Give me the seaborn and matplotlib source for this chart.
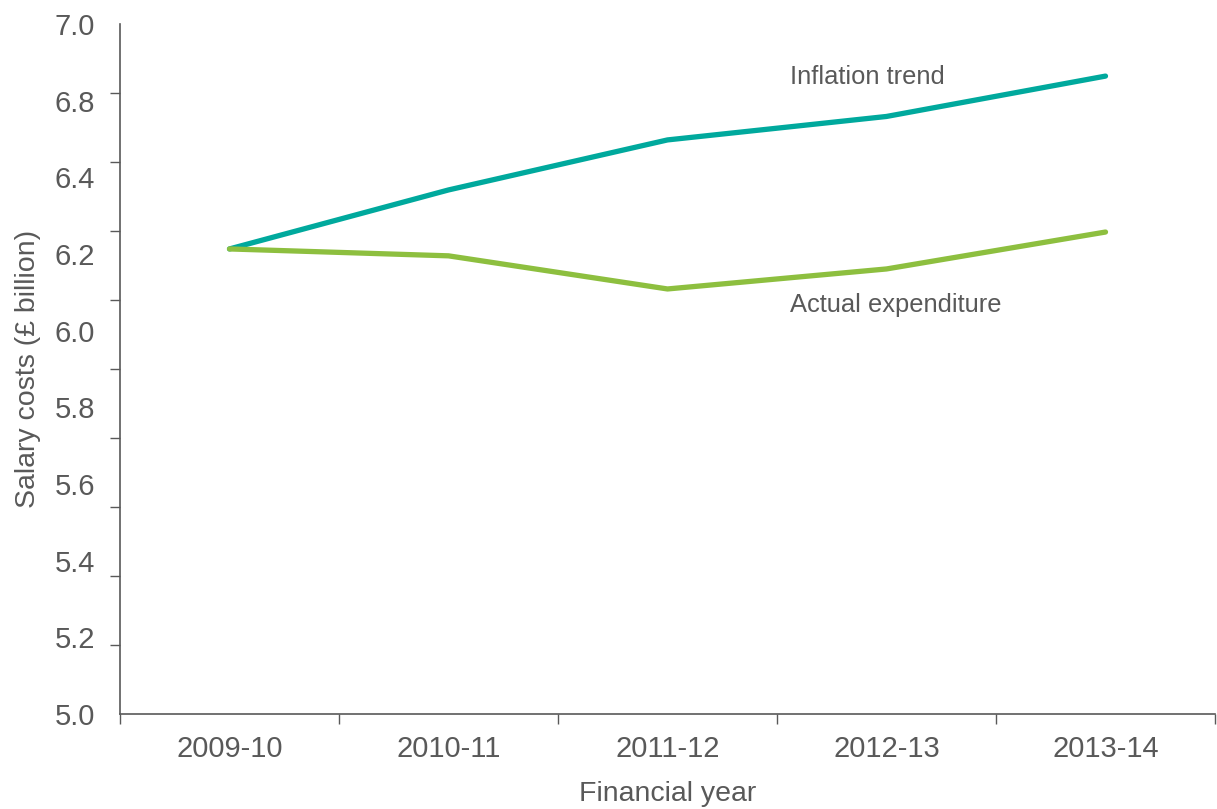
import numpy as np
import pandas as pd
import seaborn as sns
import matplotlib.pyplot as plt

years = ['2009-10', '2010-11', '2011-12', '2012-13', '2013-14']
inflation_trend = [6.348, 6.519, 6.664, 6.732, 6.849]
actual_expenditure = [6.348, 6.328, 6.232, 6.290, 6.397]
y_labels = ['5.0', '5.2', '5.4', '5.6', '5.8', '6.0', '6.2', '6.4', '6.8', '7.0']

TEXT = '#595959'
TEAL = '#00A99D'
GREEN = '#8DBF3F'

sns.set_style('ticks')
plt.rcParams['font.family'] = ['Liberation Sans', 'DejaVu Sans']

df = pd.DataFrame({
    'year': years * 2,
    'cost': inflation_trend + actual_expenditure,
    'series': ['Inflation trend'] * 5 + ['Actual expenditure'] * 5,
})

fig = plt.figure(figsize=(12.17, 8.09), dpi=100)
ax = fig.add_axes([120 / 1217, 1 - 714 / 809, 1095 / 1217, 690 / 809])

sns.lineplot(data=df, x='year', y='cost', hue='series',
             palette={'Inflation trend': TEAL, 'Actual expenditure': GREEN},
             linewidth=3.8, legend=False, ax=ax)

ax.set_xlim(-0.5, 4.5)
ax.set_ylim(5.0, 7.0)

# tick marks on 0.2 steps, labels spread evenly as in the original
ax.set_yticks(np.linspace(5.0, 7.0, len(y_labels)))
ax.set_yticklabels(y_labels)
ax.set_yticks(np.arange(5.0, 7.01, 0.2), minor=True)
ax.set_xticks(range(len(years)))
ax.set_xticklabels(years)
ax.set_xticks(np.arange(-0.5, 4.51, 1.0), minor=True)

ax.tick_params(which='major', length=0, labelsize=21, colors=TEXT)
ax.tick_params(axis='y', which='major', pad=18)
ax.tick_params(axis='x', which='major', pad=15)
ax.tick_params(which='minor', length=7, width=1, color=TEXT, direction='out')

for s in ['top', 'right']:
    ax.spines[s].set_visible(False)
for s in ['left', 'bottom']:
    ax.spines[s].set_color(TEXT)
    ax.spines[s].set_linewidth(1.2)

ax.set_xlabel('Financial year', fontsize=20.5, color=TEXT, labelpad=13)
ax.set_ylabel('Salary costs (£ billion)', fontsize=20.5, color=TEXT, labelpad=10)

ax.text(2.56, 6.846, 'Inflation trend', fontsize=18.4, color=TEXT, va='center')
ax.text(2.56, 6.186, 'Actual expenditure', fontsize=18.4, color=TEXT, va='center')

plt.savefig('out.png', dpi=100)
